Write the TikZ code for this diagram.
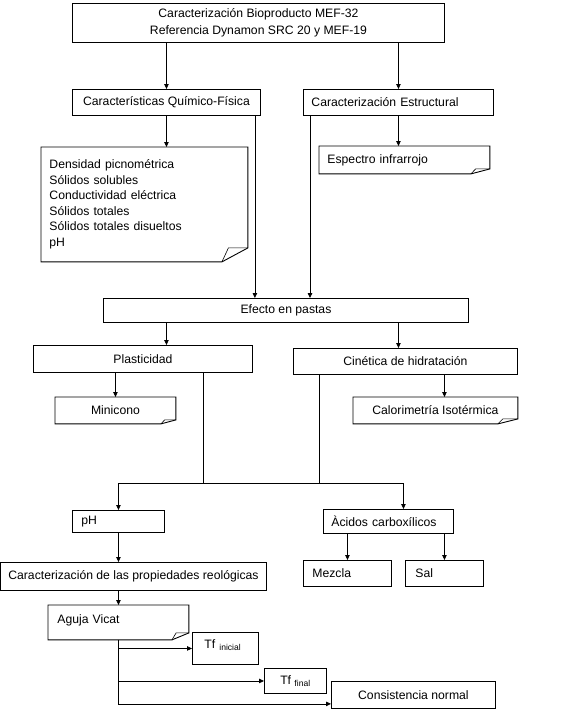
\documentclass[tikz,border=0pt]{standalone}
\usepackage{fontspec}
\setmainfont{Liberation Sans}
\usetikzlibrary{positioning, arrows.meta, calc}

\begin{document}
\begin{tikzpicture}[
  x=1pt, y=-1pt,
  box/.style={rectangle, draw=black, line width=0.9pt, anchor=north west,
              inner xsep=8pt, inner ysep=0pt,
              font=\fontsize{12.2}{15.5}\selectfont, align=center},
  lbox/.style={box, align=left},
  notebox/.style 2 args={box, draw=none, append after command={\pgfextra{
    \draw[line width=0.9pt]
      (\tikzlastnode.north west) -- (\tikzlastnode.north east)
      -- ([yshift=#2]\tikzlastnode.south east)
      -- ([xshift=-#1]\tikzlastnode.south east)
      -- (\tikzlastnode.south west) -- cycle;
    \draw[line width=0.6pt]
      ([yshift=#2]\tikzlastnode.south east)
      -- ([xshift=-0.75*#1, yshift=#2]\tikzlastnode.south east)
      -- ([xshift=-#1]\tikzlastnode.south east);
  }}},
  arrow/.style={-{Triangle[length=5pt, width=4.5pt]}, line width=0.8pt},
  line/.style={line width=0.8pt},
]
  \useasboundingbox (0,0) rectangle (579,713);

  \node[box, minimum width=372pt, minimum height=39pt,
        font=\fontsize{12.2}{17}\selectfont] (bio) at (72,3)
       {Caracterización Bioproducto MEF-32\\Referencia Dynamon SRC 20 y MEF-19};
  \node[box, minimum width=188pt, minimum height=26pt] (quim) at (72,89)
       {Características Químico-Física};
  \node[lbox, text width=174pt, minimum height=26pt] (estr) at (303,89)
       {Caracterización Estructural};

  \node[notebox={26pt}{14pt}, align=left, text width=190pt, minimum height=114pt]
       (props) at (41,147)
       {Densidad picnométrica\\Sólidos solubles\\Conductividad eléctrica\\
        Sólidos totales\\Sólidos totales disueltos\\pH};
  \node[notebox={19pt}{5pt}, align=left, text width=154pt, minimum height=27pt]
       (espec) at (319,146) {Espectro infrarrojo};

  \node[box, minimum width=365pt, minimum height=24pt] (efecto) at (103,298)
       {Efecto en pastas};
  \node[box, minimum width=219pt, minimum height=27pt] (plast) at (33,345)
       {Plasticidad};
  \node[box, minimum width=224pt, minimum height=26pt] (cinet) at (293,348)
       {Cinética de hidratación};
  \node[notebox={15pt}{4pt}, minimum width=120pt, minimum height=26pt]
       (minic) at (55,397) {Minicono};
  \node[notebox={20pt}{5pt}, minimum width=164pt, minimum height=26pt]
       (calor) at (353,397) {Calorimetría Isotérmica};

  \node[lbox, inner xsep=9pt, text width=74pt, minimum height=22pt] (ph) at (72,510)
       {pH};
  \node[lbox, text width=114pt, minimum height=24pt] (acidos) at (323,509)
       {Àcidos carboxílicos};
  \node[box, inner xsep=2pt, minimum width=266pt, minimum height=28pt] (reol) at (0,562)
       {Caracterización de las propiedades reológicas};
  \node[lbox, inner xsep=9pt, text width=70pt, minimum height=26pt] (mezcla) at (303,560)
       {Mezcla};
  \node[lbox, inner xsep=10pt, text width=58pt, minimum height=26pt] (sal) at (405,560)
       {Sal};

  \node[notebox={17pt}{7pt}, align=left, inner xsep=9pt, text width=122pt,
        text height=18pt, text depth=16pt] (aguja) at (48,605) {Aguja Vicat};
  \node[lbox, inner xsep=12pt, text width=42pt, text height=15.6pt, text depth=16.4pt]
       (tfini) at (192,632) {Tf \textsubscript{inicial}};
  \node[box, minimum width=62pt, minimum height=25pt] (tffin) at (264,668)
       {Tf \textsubscript{final}};
  \node[box, minimum width=164pt, minimum height=27pt] (consis) at (331,681)
       {Consistencia normal};

  % taps and bus
  \coordinate (qtap) at ([xshift=-6pt]quim.south east);
  \coordinate (etap) at ([xshift=7pt]estr.south west);
  \coordinate (ptap) at ([xshift=-50pt]plast.south east);
  \coordinate (ctap) at ([xshift=26pt]cinet.south west);
  \coordinate (htap) at ([xshift=9pt]calor.north);
  \coordinate (atap) at ([xshift=15pt]acidos.north);
  \coordinate (bus) at (0,483);
  \coordinate (vend) at ([yshift=5pt]consis.south west);

  \draw[arrow] (bio.south -| quim.north) -- (quim.north);
  \draw[arrow] (bio.south -| estr.north) -- (estr.north);
  \draw[arrow] (quim.south) -- (quim.south |- props.north);
  \draw[arrow] (estr.south) -- (estr.south |- espec.north);

  \draw[arrow] (qtap) -- (qtap |- efecto.north);
  \draw[arrow] (etap) -- (etap |- efecto.north);

  \draw[arrow] (efecto.south -| quim.south) -- (plast.north -| quim.south);
  \draw[arrow] (efecto.south -| estr.south) -- (cinet.north -| estr.south);
  \draw[arrow] (plast.south -| minic.north) -- (minic.north);
  \draw[arrow] (cinet.south -| htap) -- (htap);

  \draw[line] (ptap) -- (ptap |- bus);
  \draw[line] (ctap) -- (ctap |- bus);
  \draw[line] (ph.north |- bus) -- (atap |- bus);
  \draw[arrow] (ph.north |- bus) -- (ph.north);
  \draw[arrow] (atap |- bus) -- (atap);

  \draw[arrow] (ph.south) -- (ph.south |- reol.north);
  \draw[arrow] (acidos.south -| mezcla.north) -- (mezcla.north);
  \draw[arrow] (acidos.south -| sal.north) -- (sal.north);
  \draw[arrow] (reol.south -| aguja.north) -- (aguja.north);

  \draw[arrow] (aguja.south) |- (tfini.west);
  \draw[arrow] (aguja.south) |- (tffin.west);
  \draw[arrow] (aguja.south) |- (vend);
\end{tikzpicture}
\end{document}
